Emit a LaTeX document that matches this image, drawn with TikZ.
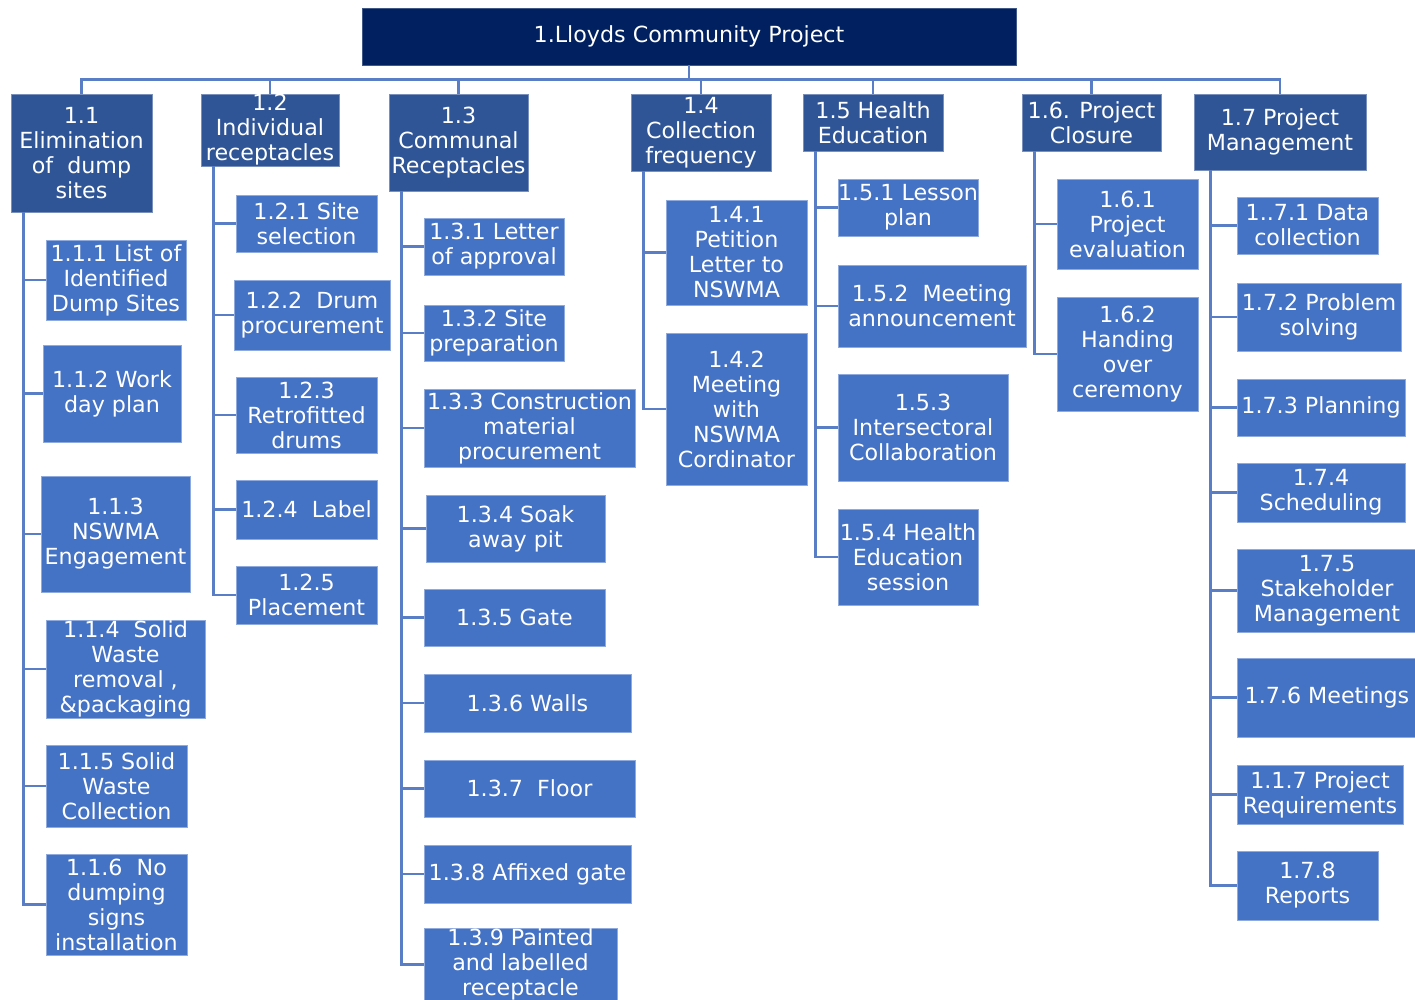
\documentclass[tikz,border=0pt]{standalone}
\usepackage{fontspec}
\setmainfont{DejaVu Sans}
\definecolor{navy}{HTML}{002060}
\definecolor{phaseblue}{HTML}{2F5597}
\definecolor{taskblue}{HTML}{4472C4}
\definecolor{linkblue}{HTML}{5A7EC6}

\tikzset{
  wbs/.style={inner sep=0pt, align=center, text=white,
    font=\fontsize{22.2}{25}\selectfont, line width=0.9pt},
  rootbox/.style={wbs, fill=navy, draw=navy!75!white},
  phasebox/.style={wbs, fill=phaseblue, draw=phaseblue!65!white},
  taskbox/.style={wbs, fill=taskblue, draw=taskblue!60!white},
  sz/.style 2 args={minimum width=#1pt, minimum height=#2pt},
  link/.style={draw=linkblue, line width=2.3pt},
}

\begin{document}
\begin{tikzpicture}[x=1pt,y=-1pt]
\fill[white] (0,0) rectangle (1415,1000);
\useasboundingbox (0,0) rectangle (1415,1000);
\clip (0,0) rectangle (1415,1000);

% ---- root and phases ----
\node[rootbox, sz={654}{57}] (root) at (689,36.5) {1.Lloyds Community Project};

\node[phasebox, sz={141}{118}] (p11) at (81.5,153) {1.1\\Elimination\\of~ dump\\sites};
\node[phasebox, sz={138}{72}]  (p12) at (270,130) {1.2\\Individual\\receptacles};
\node[phasebox, sz={139}{97}]  (p13) at (458.5,142.5) {1.3\\Communal\\Receptacles};
\node[phasebox, sz={140}{77}]  (p14) at (701,132.5) {1.4\\Collection\\frequency};
\node[phasebox, sz={140}{57}]  (p15) at (873,122.5) {1.5 Health\\Education};
\node[phasebox, sz={139}{57}]  (p16) at (1091.5,122.5) {1.6. Project\\Closure};
\node[phasebox, sz={172}{76}]  (p17) at (1280,132) {1.7 Project\\Management};

% ---- 1.1 tasks ----
\node[taskbox, sz={140}{80}]  (n111) at (116,280) {1.1.1 List of\\Identified\\Dump Sites};
\node[taskbox, sz={138}{97}]  (n112) at (112,393.5) {1.1.2 Work\\day plan};
\node[taskbox, sz={149}{116}] (n113) at (115.5,534) {1.1.3\\NSWMA\\Engagement};
\node[taskbox, sz={159}{98}]  (n114) at (125.5,669) {1.1.4~ Solid\\Waste\\removal ,\\\&packaging};
\node[taskbox, sz={141}{82}]  (n115) at (116.5,786) {1.1.5 Solid\\Waste\\Collection};
\node[taskbox, sz={141}{101}] (n116) at (116.5,904.5) {1.1.6~ No\\dumping\\signs\\installation};

% ---- 1.2 tasks ----
\node[taskbox, sz={141}{57}] (n121) at (306.5,223.5) {1.2.1 Site\\selection};
\node[taskbox, sz={156}{70}] (n122) at (312,315) {1.2.2~ Drum\\procurement};
\node[taskbox, sz={141}{76}] (n123) at (306.5,415) {1.2.3\\Retrofitted\\drums};
\node[taskbox, sz={141}{59}] (n124) at (306.5,509.5) {1.2.4~ Label};
\node[taskbox, sz={141}{58}] (n125) at (306.5,595) {1.2.5\\Placement};

% ---- 1.3 tasks ----
\node[taskbox, sz={140}{57}] (n131) at (494,246.5) {1.3.1 Letter\\of approval};
\node[taskbox, sz={140}{56}] (n132) at (494,333) {1.3.2 Site\\preparation};
\node[taskbox, sz={211}{78}] (n133) at (529.5,428) {1.3.3 Construction\\material\\procurement};
\node[taskbox, sz={179}{67}] (n134) at (515.5,528.5) {1.3.4 Soak\\away pit};
\node[taskbox, sz={181}{57}] (n135) at (514.5,617.5) {1.3.5 Gate};
\node[taskbox, sz={207}{58}] (n136) at (527.5,703) {1.3.6 Walls};
\node[taskbox, sz={211}{57}] (n137) at (529.5,788.5) {1.3.7~ Floor};
\node[taskbox, sz={207}{58}] (n138) at (527.5,874) {1.3.8 Affixed gate};
\node[taskbox, sz={193}{71}] (n139) at (520.5,964.5) {1.3.9 Painted\\and labelled\\receptacle};

% ---- 1.4 tasks ----
\node[taskbox, sz={141}{105}] (n141) at (736.5,252.5) {1.4.1\\Petition\\Letter to\\NSWMA};
\node[taskbox, sz={141}{152}] (n142) at (736.5,409) {1.4.2\\Meeting\\with\\NSWMA\\Cordinator};

% ---- 1.5 tasks ----
\node[taskbox, sz={140}{57}]  (n151) at (908,207.5) {1.5.1 Lesson\\plan};
\node[taskbox, sz={188}{82}]  (n152) at (932,306) {1.5.2~ Meeting\\announcement};
\node[taskbox, sz={170}{107}] (n153) at (923,427.5) {1.5.3\\Intersectoral\\Collaboration};
\node[taskbox, sz={140}{96}]  (n154) at (908,557) {1.5.4 Health\\Education\\session};

% ---- 1.6 tasks ----
\node[taskbox, sz={141}{90}]  (n161) at (1127.5,224) {1.6.1\\Project\\evaluation};
\node[taskbox, sz={141}{114}] (n162) at (1127.5,354) {1.6.2\\Handing\\over\\ceremony};

% ---- 1.7 tasks ----
\node[taskbox, sz={141}{57}] (n171) at (1307.5,225.5) {1..7.1 Data\\collection};
\node[taskbox, sz={164}{68}] (n172) at (1319,317) {1.7.2 Problem\\solving};
\node[taskbox, sz={168}{57}] (n173) at (1321,407.5) {1.7.3 Planning};
\node[taskbox, sz={168}{59}] (n174) at (1321,492.5) {1.7.4\\Scheduling};
\node[taskbox, sz={180}{83}] (n175) at (1327,590.5) {1.7.5\\Stakeholder\\Management};
\node[taskbox, sz={180}{79}] (n176) at (1327,697.5) {1.7.6 Meetings};
\node[taskbox, sz={166}{59}] (n177) at (1320,794.5) {1.1.7 Project\\Requirements};
\node[taskbox, sz={141}{69}] (n178) at (1307.5,885.5) {1.7.8\\Reports};

% ---- connectors: root to phases ----
\draw[link] (root.south) -- ++(0,14) coordinate (bus);
\foreach \p in {p11,p12,p13,p14,p15,p16,p17}
  \draw[link] (bus) -| (\p.north);

% ---- connectors: phases to tasks ----
\foreach \c in {n111,n112,n113,n114,n115,n116}
  \draw[link] ([xshift=13pt]p11.south west) |- (\c.west);
\foreach \c in {n121,n122,n123,n124,n125}
  \draw[link] ([xshift=13pt]p12.south west) |- (\c.west);
\foreach \c in {n131,n132,n133,n134,n135,n136,n137,n138,n139}
  \draw[link] ([xshift=13pt]p13.south west) |- (\c.west);
\foreach \c in {n141,n142}
  \draw[link] ([xshift=13pt]p14.south west) |- (\c.west);
\foreach \c in {n151,n152,n153,n154}
  \draw[link] ([xshift=13pt]p15.south west) |- (\c.west);
\foreach \c in {n161,n162}
  \draw[link] ([xshift=13pt]p16.south west) |- (\c.west);
\foreach \c in {n171,n172,n173,n174,n175,n176,n177,n178}
  \draw[link] ([xshift=17pt]p17.south west) |- (\c.west);
\end{tikzpicture}
\end{document}
